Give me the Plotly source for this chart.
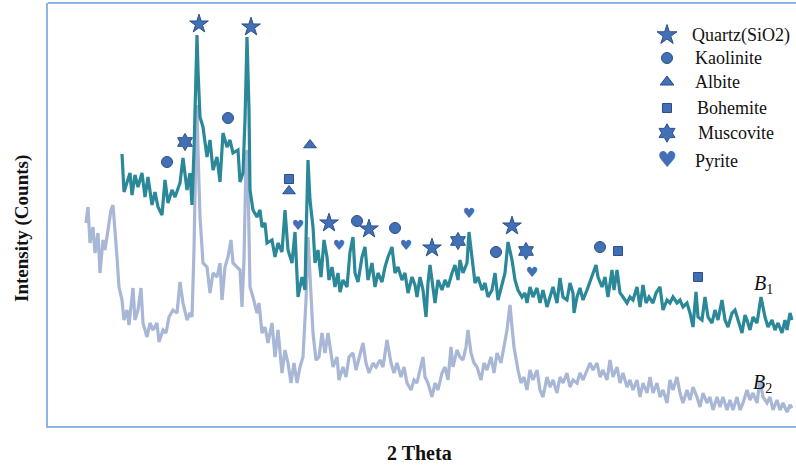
import plotly.graph_objects as go

# ---- B1 pattern (2-theta, counts) ----
b1_2theta = [12.2,12.4,13.0,13.2,13.5,13.8,14.2,14.5,14.8,15.2,15.5,15.8,16.2,16.5,16.8,17.2,17.5,18.0,18.3,18.7,19.0,19.2,19.4,19.6,19.7,19.8,20.0,20.3,20.7,21.0,21.3,21.7,22.0,22.3,22.7,23.0,23.3,23.8,24.0,24.3,24.5,24.7,24.9,25.0,25.3,25.7,26.0,26.2,26.5,26.7,27.2,27.5,27.8,28.2,28.5,28.8,29.2,29.5,29.8,30.2,30.5,30.6,30.8,31.0,31.3,31.5,31.8,32.1,32.4,32.7,32.9,33.2,33.5,33.8,34.0,34.3,34.7,35.0,35.3,35.5,35.8,36.2,36.5,36.8,37.2,37.5,37.8,38.2,38.5,38.8,39.2,39.5,39.8,40.2,40.5,40.8,41.2,41.5,41.7,42.0,42.3,42.6,42.8,43.0,43.3,43.5,43.8,44.2,44.5,44.8,45.2,45.5,45.8,46.0,46.3,46.7,46.9,47.2,47.5,47.8,48.2,48.5,48.8,49.2,49.5,49.8,50.2,50.5,50.8,51.2,51.5,51.8,52.2,52.5,52.7,53.0,53.3,53.7,54.0,54.3,54.7,55.0,55.3,55.7,56.0,56.3,56.7,57.0,57.3,57.4,57.7,58.0,58.3,58.7,59.0,59.3,59.6,59.8,60.2,60.5,60.8,61.2,61.4,61.7,62.0,62.3,62.7,63.0,63.3,63.7,64.0,64.3,64.6,64.9,65.3,65.6,66.0,66.3,66.7,67.0,67.3,67.7,68.0,68.3,68.7,69.0,69.3,69.6,69.8,70.2,70.5,70.8,71.2,71.5,71.8,72.2,72.5,72.8,73.2,73.5,73.8,74.2,74.5,74.7,75.0,75.3,75.7,76.1,76.5,76.8,77.2,77.5,77.8,78.2,78.5,78.7,79.0,79.2]
b1_counts = [2720,2340,2530,2310,2510,2390,2530,2290,2490,2210,2340,2190,2110,2460,2230,2360,2290,2430,2680,2360,2530,2210,2760,3660,3910,3560,3090,2990,2690,2860,2560,2690,2440,2930,2790,2860,2730,2760,2440,2530,3060,3890,3160,2360,2160,2090,2160,1990,2030,1830,1860,1690,1830,1740,2160,1760,1630,1940,1290,1490,1360,1860,2660,2260,1990,1630,1760,1490,1860,1690,1460,1590,1390,1530,1340,1460,1390,1740,1890,1530,1440,1690,1790,1460,1630,1390,1530,1440,1590,1690,1790,1530,1590,1460,1530,1330,1490,1410,1290,1490,1360,1090,1430,1610,1360,1230,1460,1360,1460,1390,1530,1610,1460,1660,1530,1630,1940,1660,1430,1490,1360,1430,1290,1360,1530,1260,1430,1530,1840,1660,1460,1360,1290,1330,1230,1390,1290,1380,1230,1360,1190,1290,1390,1230,1480,1290,1260,1430,1330,1130,1290,1380,1260,1360,1440,1530,1610,1490,1390,1490,1290,1560,1360,1560,1330,1290,1230,1290,1260,1390,1190,1410,1230,1290,1230,1330,1390,1160,1260,1230,1290,1230,1260,1190,1230,1130,990,1340,1090,1060,1290,1090,1030,1160,1060,1260,1060,990,1130,1160,1060,930,1110,1060,960,1090,1030,1290,1090,990,1060,960,1030,930,1060,960,1130,1060]

# ---- B2 pattern (2-theta, counts) ----
b2_2theta = [8.6,8.8,9.0,9.3,9.5,9.8,10.0,10.3,10.5,10.8,11.1,11.3,11.5,11.7,11.9,12.2,12.4,12.7,12.9,13.3,13.5,13.8,14.1,14.3,14.7,15.0,15.3,15.7,15.9,16.3,16.6,16.9,17.3,17.7,18.0,18.3,18.7,19.0,19.2,19.4,19.6,19.7,19.8,20.0,20.3,20.7,21.0,21.3,21.7,22.0,22.2,22.5,22.8,23.1,23.3,23.7,24.0,24.2,24.4,24.6,24.7,24.8,25.0,25.3,25.7,25.9,26.2,26.5,26.8,27.2,27.5,27.8,28.2,28.5,28.8,29.1,29.4,29.7,30.0,30.3,30.6,30.8,31.0,31.3,31.6,31.9,32.2,32.5,32.8,33.1,33.3,33.7,33.9,34.3,34.6,34.9,35.3,35.6,35.9,36.3,36.6,36.9,37.3,37.6,38.0,38.3,38.7,39.1,39.4,39.7,40.1,40.4,40.7,41.1,41.4,41.7,42.0,42.3,42.5,42.8,43.2,43.5,43.8,44.2,44.5,44.8,45.1,45.3,45.7,46.0,46.3,46.6,46.8,47.1,47.4,47.7,48.1,48.4,48.7,49.1,49.4,49.7,50.1,50.4,50.7,50.9,51.0,51.2,51.4,51.8,52.1,52.4,52.7,53.0,53.3,53.7,54.0,54.3,54.7,55.0,55.3,55.7,56.0,56.3,56.7,57.0,57.3,57.7,58.0,58.3,58.7,59.0,59.3,59.7,60.0,60.3,60.7,61.0,61.3,61.7,62.0,62.3,62.7,63.0,63.3,63.7,64.0,64.3,64.7,65.0,65.3,65.7,66.0,66.3,66.7,67.0,67.3,67.7,68.0,68.3,68.7,69.0,69.3,69.7,70.0,70.3,70.7,71.0,71.3,71.7,72.0,72.3,72.7,73.0,73.3,73.7,74.0,74.3,74.7,75.0,75.3,75.7,76.0,76.3,76.7,77.0,77.3,77.7,78.0,78.3,78.7,79.0,79.2]
b2_counts = [2030,2190,1830,1990,1730,1930,1530,1860,1760,1960,2160,2210,1990,1690,1390,1260,1060,1160,1010,1380,1060,1160,1380,1030,890,1030,960,1030,840,960,930,1090,1160,1130,1440,1230,1060,1130,1090,1760,2860,3210,2760,2090,1630,1590,1330,1530,1490,1630,1260,1590,1690,1860,1630,1590,1560,1190,1660,2660,2760,2460,1390,1290,1130,1230,930,990,830,1030,690,960,530,760,630,430,630,430,590,690,1260,1890,1460,930,660,690,930,730,930,730,590,690,460,590,490,690,730,560,690,830,630,530,630,590,660,590,860,630,530,630,490,590,430,360,460,430,560,690,490,430,290,430,360,530,590,460,790,590,760,690,660,790,960,730,630,590,460,630,560,690,530,730,630,790,960,1130,1210,990,790,560,430,490,360,560,460,560,360,290,490,390,460,330,490,430,530,390,460,430,530,460,560,630,560,630,490,560,460,660,490,590,430,530,390,460,360,460,290,430,330,490,330,430,290,360,230,460,360,490,330,230,360,260,390,290,190,330,230,290,160,290,190,290,160,260,160,290,160,230,360,260,330,230,460,290,230,290,160,260,160,230,140,210,180]

# ---- phase identification marks (2-theta, counts) ----
quartz_2theta = [19.9, 25.1, 32.9, 36.9, 43.2, 51.2]
quartz_counts = [4020, 3990, 2030, 1970, 1780, 2000]
kaolinite_2theta = [16.7, 22.8, 35.7, 39.5, 49.6, 60.0]
kaolinite_counts = [2640, 3080, 2050, 1980, 1740, 1790]
albite_2theta = [31.0, 28.9]
albite_counts = [2810, 2350]
bohemite_2theta = [28.9, 61.8, 69.8]
bohemite_counts = [2470, 1750, 1490]
muscovite_2theta = [18.5, 45.8, 52.6]
muscovite_counts = [2840, 1850, 1750]
pyrite_2theta = [29.8, 33.9, 40.6, 46.9, 53.2]
pyrite_counts = [2000, 1800, 1800, 2120, 1530]

legend_names = ["Quartz(SiO2)", "Kaolinite", "Albite", "Bohemite", "Muscovite", "Pyrite"]

# styles
C_B1 = "#2B8898"
C_B2 = "#A8B7D6"
M_FILL = "#4170B5"
M_LINE = "#2B4F8A"
FRAME = "#8DB4E2"
SERIF = "Liberation Serif, Times New Roman, serif"

# plot area in page pixels
L, R, T, B = 48, 796, 3, 426
def px(x):
    return (x - L) / (R - L)
def py(y):
    return (B - y) / (B - T)

fig = go.Figure()
fig.add_trace(go.Scatter(x=b2_2theta, y=b2_counts, mode="lines",
                         line=dict(color=C_B2, width=3.2), showlegend=False))
fig.add_trace(go.Scatter(x=b1_2theta, y=b1_counts, mode="lines",
                         line=dict(color=C_B1, width=3.2), showlegend=False))

def mk(x, y, symbol, size):
    fig.add_trace(go.Scatter(x=x, y=y, mode="markers", showlegend=False,
                             marker=dict(symbol=symbol, size=size, color=M_FILL,
                                         line=dict(color=M_LINE, width=1))))

mk(quartz_2theta, quartz_counts, "star", 14)
mk(kaolinite_2theta, kaolinite_counts, "circle", 11)
mk(albite_2theta, albite_counts, "triangle-up", 11)
mk(bohemite_2theta, bohemite_counts, "square", 9)
mk(muscovite_2theta, muscovite_counts, "hexagram", 13)
fig.add_trace(go.Scatter(x=pyrite_2theta, y=pyrite_counts, mode="text", text=["♥"] * len(pyrite_2theta),
                         textfont=dict(family="DejaVu Sans", size=14, color=M_FILL), showlegend=False))

# ---- custom legend on an overlay pixel axis ----
leg_x = 667
leg_y = [35, 58, 82, 108, 133, 161]
leg_tx = [690, 693, 693, 695, 696, 693]
symbols = ["star", "circle", "triangle-up", "square", "hexagram"]
sizes = [15, 11, 12, 9, 14]
for i, s in enumerate(symbols):
    fig.add_trace(go.Scatter(x=[leg_x], y=[leg_y[i]], xaxis="x2", yaxis="y2", mode="markers",
                             showlegend=False,
                             marker=dict(symbol=s, size=sizes[i], color=M_FILL,
                                         line=dict(color=M_LINE, width=1))))
fig.add_trace(go.Scatter(x=[leg_x], y=[leg_y[5]], xaxis="x2", yaxis="y2", mode="text", text=["♥"],
                         textfont=dict(family="DejaVu Sans", size=22, color=M_FILL), showlegend=False))
for i, name in enumerate(legend_names):
    fig.add_annotation(x=px(leg_tx[i]), y=py(leg_y[i]), xref="paper", yref="paper", text=name,
                       showarrow=False, xanchor="left", yanchor="middle",
                       font=dict(family=SERIF, size=18, color="#111111"))

# series labels
fig.add_annotation(x=px(752), y=py(284), xref="paper", yref="paper", text="<i>B</i><sub>1</sub>",
                   showarrow=False, xanchor="left", yanchor="middle",
                   font=dict(family=SERIF, size=20, color="#111111"))
fig.add_annotation(x=px(751), y=py(383), xref="paper", yref="paper", text="<i>B</i><sub>2</sub>",
                   showarrow=False, xanchor="left", yanchor="middle",
                   font=dict(family=SERIF, size=20, color="#111111"))

# axis titles
fig.add_annotation(x=px(22), y=py(229), xref="paper", yref="paper", text="<b>Intensity (Counts)</b>",
                   showarrow=False, textangle=-90, xanchor="center", yanchor="middle",
                   font=dict(family=SERIF, size=19, color="#111111"))
fig.add_annotation(x=px(419), y=py(453), xref="paper", yref="paper", text="<b>2 Theta</b>",
                   showarrow=False, xanchor="center", yanchor="middle",
                   font=dict(family=SERIF, size=20, color="#111111"))

fig.add_shape(type="line", xref="paper", yref="paper", x0=0, x1=1, y0=1, y1=1,
              line=dict(color=FRAME, width=2))

fig.update_layout(
    width=796, height=470,
    margin=dict(l=L, r=796 - R, t=T, b=470 - B),
    paper_bgcolor="white", plot_bgcolor="white",
    xaxis=dict(range=[4.8, 79.6], showline=True, linecolor=FRAME, linewidth=2,
               showticklabels=False, showgrid=False, zeroline=False, ticks=""),
    yaxis=dict(range=[0, 4230], showline=True, linecolor=FRAME, linewidth=2,
               showticklabels=False, showgrid=False, zeroline=False, ticks=""),
    xaxis2=dict(range=[L, R], overlaying="x", visible=False),
    yaxis2=dict(range=[B, T], overlaying="y", visible=False),
)

fig.write_html("out.html", config={"displayModeBar": False},
               post_script="document.body.style.margin='0';")
